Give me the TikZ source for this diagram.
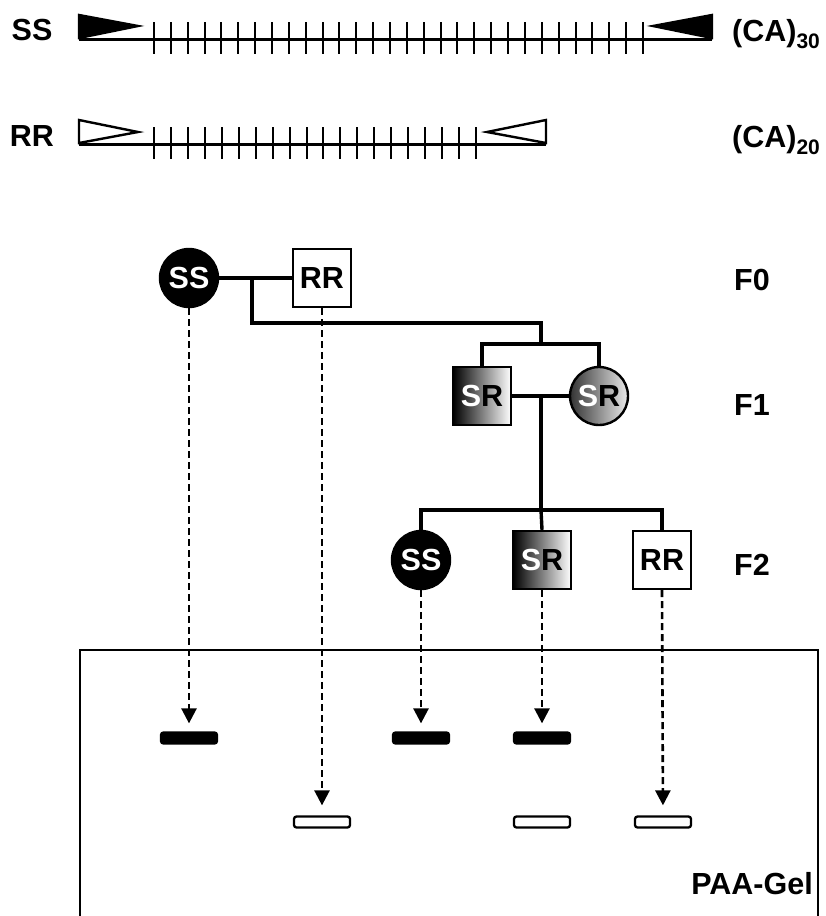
\documentclass[tikz,border=0pt]{standalone}
\usepackage{fontspec}
\setmainfont{Liberation Sans}
\usetikzlibrary{arrows.meta}
\begin{document}
\begin{tikzpicture}[x=1pt,y=-1pt,
  bigfont/.style={font=\fontsize{30.5}{30.5}\selectfont\bfseries},
  lbl/.style={bigfont, inner sep=0pt},
  ped/.style={line width=3.4pt},
  dna/.style={line width=3pt},
  tickline/.style={line width=2.9pt},
  tri/.style={line width=2.4pt, line join=miter},
  circnode/.style={circle, draw, line width=2.4pt, minimum size=58pt, inner sep=0pt, bigfont},
  sqnode/.style={rectangle, draw, line width=2.4pt, minimum size=58pt, inner sep=0pt, bigfont},
  blackc/.style={circnode, fill=black, text=white},
  whitesq/.style={sqnode, fill=white},
  shadesq/.style={sqnode, left color=black, right color=white},
  shadec/.style={circnode, left color=black!80, right color=black!8},
  bandb/.style={rectangle, draw, fill=black, line width=2.3pt, rounded corners=2.5pt, minimum width=56pt, minimum height=11pt, inner sep=0pt},
  bandw/.style={bandb, fill=white},
  dasharrow/.style={line width=2.6pt, dash pattern=on 7pt off 4pt, -{Triangle[length=15pt,width=15pt]}},
  gel/.style={line width=2.5pt}
]
\useasboundingbox (0,0) rectangle (825,916);

% ---------- top: alleles ----------
\node[lbl] (lss) at (32,30) {SS};
\node[lbl] (lrr) at (32,136) {RR};
\node[lbl, anchor=west] (ca30) at (732,34) {(CA)\raisebox{-7pt}{\fontsize{21}{21}\selectfont 30}};
\node[lbl, anchor=west] (ca20) at (732,140) {(CA)\raisebox{-7pt}{\fontsize{21}{21}\selectfont 20}};

% SS allele
\draw[dna] (79,39) -- (712,39);
\draw[black, fill=black, tri] (79,15) -- (138,26) -- (79,38) -- cycle;
\draw[black, fill=black, tri] (712,15) -- (653,26) -- (712,38) -- cycle;
\foreach \i in {0,...,29} {
  \pgfmathsetmacro{\tx}{round(154+16.86*\i)}
  \draw[tickline] (\tx,22) -- ++(0,32);
}

% RR allele
\draw[dna] (79,144) -- (546,144);
\draw[tri, fill=white] (79,120) -- (138,132) -- (79,143) -- cycle;
\draw[tri, fill=white] (546,120) -- (487,132) -- (546,143) -- cycle;
\foreach \i in {0,...,19} {
  \pgfmathsetmacro{\tx}{round(154+16.95*\i)}
  \draw[tickline] (\tx,127) -- ++(0,32);
}

% ---------- pedigree ----------
\node[blackc] (ss0) at (189,278) {SS};
\node[whitesq] (rr0) at (322,278) {RR};
\node[shadesq] (sr1) at (482,396) {\textcolor{white}{S}R};
\node[shadec] (src1) at (599,396) {\textcolor{white}{S}R};
\node[blackc] (ss2) at (421,560) {SS};
\node[shadesq] (sr2) at (542,560) {\textcolor{white}{S}R};
\node[whitesq] (rr2) at (662,560) {RR};

\node[lbl] (f0) at (752,280) {F0};
\node[lbl] (f1) at (752,405) {F1};
\node[lbl] (f2) at (752,565) {F2};

\coordinate (j0) at (252,278);
\coordinate (j0b) at (252,323);
\coordinate (j1) at (541,323);
\coordinate (j1b) at (541,344);
\coordinate (m1) at (541,396);
\coordinate (j2) at (541,510);

\draw[ped] (ss0) -- (rr0);
\draw[ped] (j0) -- (j0b) -- (j1) -- (j1b);
\draw[ped] (sr1.north) |- (j1b) -| (src1.north);
\draw[ped] (sr1) -- (src1);
\draw[ped] (m1) -- (j2);
\draw[ped] (ss2.north) |- (j2) -| (rr2.north);
\draw[ped] (j2) -- (sr2.north);

% ---------- gel ----------
\coordinate (g1) at (80,916);
\coordinate (g2) at (80,650);
\coordinate (g3) at (818,650);
\coordinate (g4) at (818,916);
\draw[gel] (g1) -- (g2) -- (g3) -- (g4);

\node[bandb] (b1) at (189,738) {};
\node[bandw] (b2) at (322,822) {};
\node[bandb] (b3) at (421,738) {};
\node[bandb] (b4) at (542,738) {};
\node[bandw] (b5) at (542,822) {};
\node[bandw] (b6) at (663,822) {};

\draw[dasharrow, shorten >=8pt] (ss0.south) -- (b1.north);
\draw[dasharrow, shorten >=10pt] (rr0.south) -- (b2.north);
\draw[dasharrow, shorten >=8pt] (ss2.south) -- (b3.north);
\draw[dasharrow, shorten >=8pt] (sr2.south) -- (b4.north);
\draw[dasharrow, shorten >=10pt] (rr2.south) -- (b6.north);

\node[lbl, anchor=east] (paa) at (813,884) {PAA-Gel};
\end{tikzpicture}
\end{document}
